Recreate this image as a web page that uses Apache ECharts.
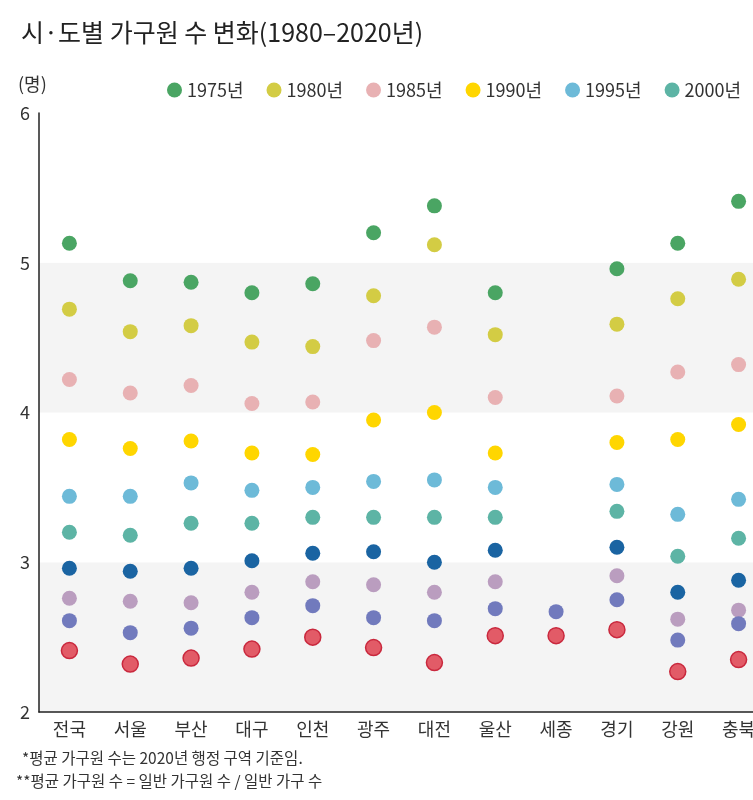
<!DOCTYPE html>
<html>
<head>
<meta charset="utf-8">
<script src="https://cdn.jsdelivr.net/npm/echarts@6/dist/echarts.min.js"></script>
<style>
  html, body { margin: 0; padding: 0; background: #fff; overflow: hidden; }
  /* canvas is a little wider than the page, so the last column runs off the right edge */
  #chart { width: 772px; height: 800px; }
</style>
</head>
<body>
<div id="chart"></div>
<script>
// Regions (시·도)
const regions = ['전국', '서울', '부산', '대구', '인천', '광주', '대전', '울산', '세종', '경기', '강원', '충북'];

// Average household size per year, one array per survey year ('-' = no data)
const y1975 = [5.13, 4.88, 4.87, 4.80, 4.86, 5.20, 5.38, 4.80, '-', 4.96, 5.13, 5.41];
const y1980 = [4.69, 4.54, 4.58, 4.47, 4.44, 4.78, 5.12, 4.52, '-', 4.59, 4.76, 4.89];
const y1985 = [4.22, 4.13, 4.18, 4.06, 4.07, 4.48, 4.57, 4.10, '-', 4.11, 4.27, 4.32];
const y1990 = [3.82, 3.76, 3.81, 3.73, 3.72, 3.95, 4.00, 3.73, '-', 3.80, 3.82, 3.92];
const y1995 = [3.44, 3.44, 3.53, 3.48, 3.50, 3.54, 3.55, 3.50, '-', 3.52, 3.32, 3.42];
const y2000 = [3.20, 3.18, 3.26, 3.26, 3.30, 3.30, 3.30, 3.30, '-', 3.34, 3.04, 3.16];
const y2005 = [2.96, 2.94, 2.96, 3.01, 3.06, 3.07, 3.00, 3.08, '-', 3.10, 2.80, 2.88];
const y2010 = [2.76, 2.74, 2.73, 2.80, 2.87, 2.85, 2.80, 2.87, '-', 2.91, 2.62, 2.68];
const y2015 = [2.61, 2.53, 2.56, 2.63, 2.71, 2.63, 2.61, 2.69, 2.67, 2.75, 2.48, 2.59];
const y2020 = [2.41, 2.32, 2.36, 2.42, 2.50, 2.43, 2.33, 2.51, 2.51, 2.55, 2.27, 2.35];

const yearNames = ['1975년', '1980년', '1985년', '1990년', '1995년', '2000년', '2005년', '2010년', '2015년', '2020년'];
const yearValues = [y1975, y1980, y1985, y1990, y1995, y2000, y2005, y2010, y2015, y2020];
const yearColors = ['#4aa563', '#d3cc44', '#e8b1b3', '#ffd600', '#6dbad8', '#5db4a5', '#1a64a2', '#ba9dbf', '#717abd', '#e25b67'];

const yTicks = { min: 2, max: 6, step: 1 };

const FONT = '"Noto Sans CJK KR", "Noto Sans", sans-serif';

const series = yearNames.map((name, i) => ({
  name: name,
  type: 'scatter',
  data: yearValues[i],
  symbol: 'circle',
  symbolSize: i === 9 ? 16 : 15,
  itemStyle: i === 9
    ? { color: yearColors[i], borderColor: '#c9283d', borderWidth: 1.5, opacity: 1 }
    : { color: yearColors[i], opacity: 1 },
  emphasis: { disabled: true },
  z: 3 + i
}));

const chart = echarts.init(document.getElementById('chart'), null, { renderer: 'canvas' });
chart.setOption({
  animation: false,
  backgroundColor: '#ffffff',
  color: yearColors,
  textStyle: { fontFamily: FONT },
  title: {
    text: '시·도별 가구원 수 변화(1980–2020년)',
    left: 16,
    top: 15,
    textStyle: { fontFamily: FONT, fontSize: 25, fontWeight: 'normal', color: '#222' }
  },
  legend: {
    left: 162,
    top: 76,
    width: 1600,
    icon: 'circle',
    itemWidth: 15,
    itemHeight: 15,
    itemGap: 23,
    textStyle: { fontFamily: FONT, fontSize: 18, color: '#333' },
    data: yearNames
  },
  grid: {
    left: 39,
    top: 113,
    width: 730,
    height: 599,
    containLabel: false
  },
  xAxis: {
    type: 'category',
    data: regions,
    boundaryGap: true,
    axisLine: { show: true, lineStyle: { color: '#222', width: 1.5 } },
    axisTick: { show: false },
    axisLabel: { fontFamily: FONT, fontSize: 18, color: '#333', margin: 8 },
    splitLine: { show: false }
  },
  yAxis: {
    type: 'value',
    min: yTicks.min,
    max: yTicks.max,
    interval: yTicks.step,
    axisLine: { show: true, lineStyle: { color: '#222', width: 1.5 } },
    axisTick: { show: false },
    axisLabel: { fontFamily: FONT, fontSize: 18, color: '#333', margin: 9 },
    splitLine: { show: false },
    splitArea: { show: true, areaStyle: { color: ['#f4f4f4', '#ffffff'] } }
  },
  graphic: [
    { type: 'text', left: 18, top: 75, style: { text: '(명)', font: '18px ' + FONT, fill: '#333' } },
    { type: 'text', left: 22, top: 750, style: { text: '*평균 가구원 수는 2020년 행정 구역 기준임.', font: '15.5px ' + FONT, fill: '#333' } },
    { type: 'text', left: 16, top: 773, style: { text: '**평균 가구원 수 = 일반 가구원 수 / 일반 가구 수', font: '15.5px ' + FONT, fill: '#333' } }
  ],
  series: series
});
</script>
</body>
</html>
